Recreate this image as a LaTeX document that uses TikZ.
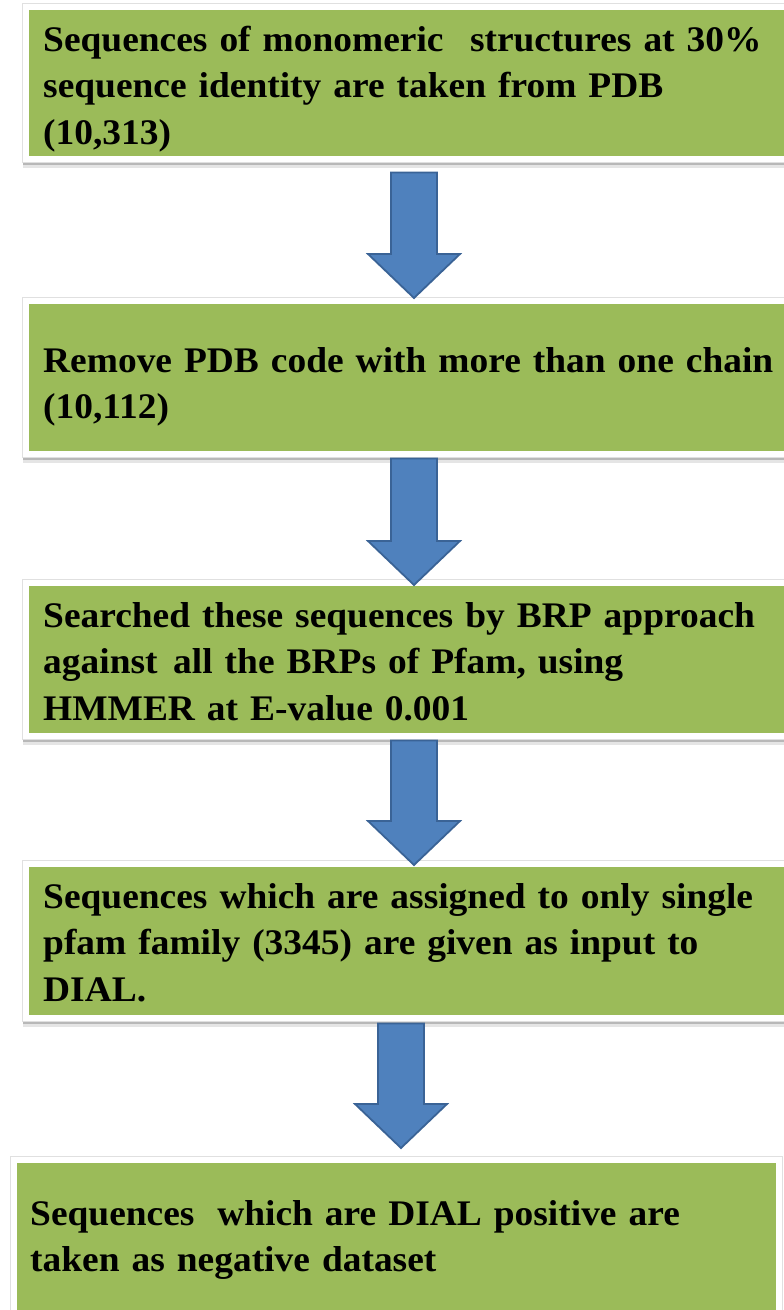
\documentclass[tikz,border=0pt]{standalone}
\usepackage{fontspec}
\setmainfont{Liberation Serif}[FakeStretch=1.04]
\usetikzlibrary{calc}
\definecolor{boxgreen}{HTML}{9BBB59}
\definecolor{arrowblue}{HTML}{4F81BD}
\definecolor{arrowedge}{HTML}{3A6396}

% block arrow from the bottom of one box to the top of the next
% #1 source, #2 target, #3 centre x (pt), #4 gap below source, #5 gap above target
\newcommand\flowarrow[5]{%
  \draw[blockarrow] let \p1=(#1.south), \p2=(#2.north) in
    (#3pt-23pt, \y1-#4pt) -- (#3pt+23pt, \y1-#4pt)
    -- (#3pt+23pt, \y2+#5pt+44pt) -- (#3pt+46pt, \y2+#5pt+44pt)
    -- (#3pt, \y2+#5pt)
    -- (#3pt-46pt, \y2+#5pt+44pt) -- (#3pt-23pt, \y2+#5pt+44pt) -- cycle;}

\begin{document}
\begin{tikzpicture}[x=1pt, y=-1pt,
  stepbox/.style={fill=boxgreen, anchor=north west, align=left,
    inner xsep=14pt, inner ysep=0pt, text width=743pt,
    font=\bfseries\fontsize{36}{46.5}\selectfont,
    preaction={draw=black!10, line width=12pt, transform canvas={yshift=-6pt}},
    preaction={draw=black!28, line width=12pt, transform canvas={yshift=-3pt}},
    preaction={draw=black!12, line width=13.5pt},
    preaction={draw=white, line width=12pt}},
  blockarrow/.style={fill=arrowblue, draw=arrowedge, line width=1.8pt, line join=miter}]
\useasboundingbox (0,0) rectangle (784,1310);
\clip (0,0) rectangle (784,1310);

\node[stepbox, text height=41pt, text depth=105pt] (b1) at (29,10)
  {Sequences of monomeric\hspace{0.4em} structures at 30\%\\
   sequence identity are taken from PDB\\
   (10,313)};

\node[stepbox, text height=68pt, text depth=79pt] (b2) at (29,304)
  {Remove PDB code with more than one chain\\
   (10,112)};

\node[stepbox, text height=41pt, text depth=106pt] (b3) at (29,586)
  {Searched these sequences by BRP approach\\
   against\hspace{0.1em} all the BRPs of Pfam, using\\
   HMMER at E-value 0.001};

\node[stepbox, text height=41pt, text depth=107pt] (b4) at (29,867)
  {Sequences which are assigned to only single\\
   pfam family (3345) are given as input to\\
   DIAL.};

\node[stepbox, text width=733pt, inner xsep=13pt, text height=62pt, text depth=85pt] (b5) at (17,1163)
  {Sequences\hspace{0.3em} which are DIAL positive are\\
   taken as negative dataset};

\flowarrow{b1}{b2}{414}{16}{6}
\flowarrow{b2}{b3}{414}{7}{1}
\flowarrow{b3}{b4}{414}{7}{2}
\flowarrow{b4}{b5}{401}{8}{15}
\end{tikzpicture}
\end{document}
